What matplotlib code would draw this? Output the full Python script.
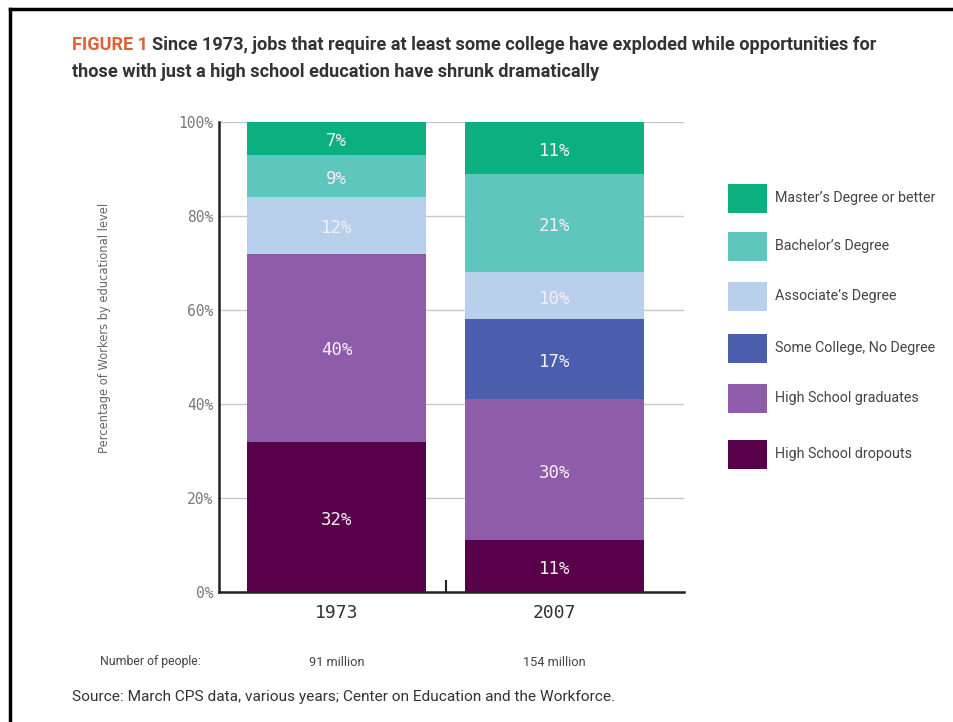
import matplotlib
matplotlib.use("Agg")
import matplotlib.pyplot as plt
from matplotlib.patches import Rectangle
from matplotlib.lines import Line2D
import numpy as np

years = ["1973", "2007"]
categories = ["High School dropouts", "High School graduates", "Some College, No Degree",
              "Associate's Degree", "Bachelor's Degree", "Master's Degree or better"]
values_1973 = [32, 40, 0, 12, 9, 7]
values_2007 = [11, 30, 17, 10, 21, 11]
people = ["91 million", "154 million"]
colors = ["#58004a", "#8e5ca8", "#4a5ead", "#b8d0ec", "#5fc6bd", "#0caf80"]
yticks = [0, 20, 40, 60, 80, 100]
legend_labels = ["Master\u2019s Degree or better", "Bachelor\u2019s Degree", "Associate\u2019s Degree",
                 "Some College, No Degree", "High School graduates", "High School dropouts"]
legend_colors = colors[::-1]

W, H = 954, 722
fig = plt.figure(figsize=(W / 100, H / 100), dpi=100)
fig.patch.set_facecolor("white")
renderer = fig.canvas.get_renderer()

def fx(px):
    return px / W

def fy(py):
    return 1 - py / H

def fit(t, width_px):
    w = t.get_window_extent(renderer=renderer).width
    t.set_fontsize(t.get_fontsize() * width_px / w)
    return t

ax = fig.add_axes([fx(219), fy(592), fx(684) - fx(219), (592 - 122) / H])
data = np.array([values_1973, values_2007])
x = np.arange(len(years))
bottom = np.zeros(len(years))
for i, cat in enumerate(categories):
    vals = data[:, i]
    ax.bar(x, vals, bottom=bottom, width=0.82, color=colors[i], zorder=2, linewidth=0)
    for j in range(len(years)):
        if vals[j] > 0:
            ax.text(x[j], bottom[j] + vals[j] / 2 - 0.6, f"{vals[j]}%", ha="center", va="center",
                    color="#f4eef4", fontsize=12.5, family="DejaVu Sans Mono", zorder=3)
    bottom += vals

ax.set_xlim(-0.539, 1.594)
ax.set_ylim(0, 100)
ax.set_yticks(yticks)
ax.set_yticklabels([f"{t}%" for t in yticks], color="#7a7a7a", fontsize=10.5, family="DejaVu Sans Mono")
ax.tick_params(axis="y", length=0, pad=4)
ax.set_xticks([0.5])
ax.set_xticklabels([""])
ax.tick_params(axis="x", direction="in", length=9, width=1.5, color="#222222")
for t in yticks[1:]:
    ax.axhline(t, color="#c8c8c8", linewidth=1.0, zorder=1)
for s in ["top", "right"]:
    ax.spines[s].set_visible(False)
for s in ["left", "bottom"]:
    ax.spines[s].set_linewidth(1.8)
    ax.spines[s].set_color("#222222")
    ax.spines[s].set_zorder(4)

for j, yr in enumerate(years):
    ax.text(x[j], -4.5, yr, ha="center", va="center", fontsize=13, color="#333333",
            family="DejaVu Sans Mono", clip_on=False)
    ax.text(x[j], -14.9, people[j], ha="center", va="center", fontsize=9.2, color="#444444",
            family="Roboto", clip_on=False)

nop = fig.text(fx(100), fy(662), "Number of people:", ha="left", va="center", fontsize=9,
               color="#444444", family="Roboto")
fit(nop, 102)

fig.text(fx(105), fy(328), "Percentage of Workers by educational level", rotation=90,
         ha="center", va="center", fontsize=8.3, color="#666666", family="DejaVu Sans")

# Title
tf = "Roboto"
t1 = fig.text(fx(72), fy(45), "FIGURE 1 ", ha="left", va="center", fontsize=12,
              color="#e0603a", family=tf, weight="bold")
t2 = fig.text(fx(72), fy(45), "Since 1973, jobs that require at least some college have exploded while opportunities for",
              ha="left", va="center", fontsize=12, color="#333333", family=tf, weight="bold")
w1 = t1.get_window_extent(renderer=renderer).width
w2 = t2.get_window_extent(renderer=renderer).width
scale = 800 / (w1 + w2)
t1.set_fontsize(12 * scale)
t2.set_fontsize(12 * scale)
w1 = t1.get_window_extent(renderer=renderer).width
t2.set_x(fx(72 + w1))
t3 = fig.text(fx(72), fy(72), "those with just a high school education have shrunk dramatically",
              ha="left", va="center", fontsize=12 * scale, color="#333333", family=tf, weight="bold")

src = fig.text(fx(72), fy(697), "Source: March CPS data, various years; Center on Education and the Workforce.",
               ha="left", va="center", fontsize=10, color="#333333", family="Roboto")
fit(src, 542)

# Legend
leg_y = [198, 246, 296, 348, 398, 454]
leg_texts = []
for lab, col, yc in zip(legend_labels, legend_colors, leg_y):
    fig.patches.append(Rectangle((fx(728), fy(yc + 14.5)), fx(767) - fx(728), 29 / H,
                                 transform=fig.transFigure, facecolor=col, edgecolor="none"))
    leg_texts.append(fig.text(fx(775), fy(yc), lab, ha="left", va="center", fontsize=9.5,
                              color="#444444", family="Roboto"))
w0 = leg_texts[0].get_window_extent(renderer=renderer).width
for tt in leg_texts:
    tt.set_fontsize(9.5 * 161 / w0)

# Frame
fig.add_artist(Line2D([fx(10), 1], [fy(9), fy(9)], color="black", linewidth=2.5, transform=fig.transFigure))
fig.add_artist(Line2D([fx(10), fx(10)], [fy(9), 0], color="black", linewidth=2.5, transform=fig.transFigure))

fig.savefig("out.png", dpi=100)
